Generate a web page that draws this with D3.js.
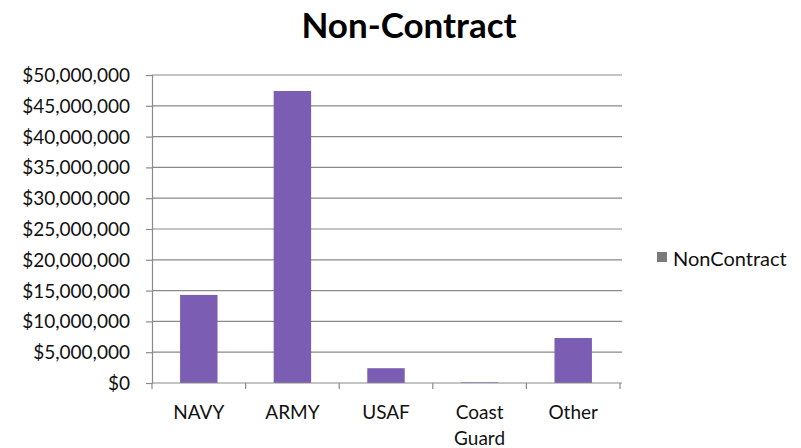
<!DOCTYPE html>
<html><head><meta charset="utf-8">
<script src="https://cdn.jsdelivr.net/npm/d3@7"></script>
<style>body{margin:0;background:#fff;} svg{display:block;}</style>
</head><body>
<svg id="c" width="801" height="448"></svg>
<script>
const categories = ["NAVY", "ARMY", "USAF", "Coast Guard", "Other"];
const values = [14300000, 47400000, 2400000, 100000, 7300000];
const yTicks = [0, 5000000, 10000000, 15000000, 20000000, 25000000, 30000000, 35000000, 40000000, 45000000, 50000000];
const seriesName = "NonContract";
const title = "Non-Contract";

const svg = d3.select("#c");
const font = "Lato, 'Open Sans', sans-serif";
const m = {left: 152, right: 620, top: 75, bottom: 383};

const xb = d3.scaleBand().domain(categories).range([m.left, m.right]);
const y = d3.scaleLinear().domain([0, 50000000]).range([m.bottom, m.top]);

// gridlines
svg.append("g").selectAll("line").data(yTicks.slice(1)).join("line")
  .attr("x1", m.left).attr("x2", m.right + 2)
  .attr("y1", d => y(d)).attr("y2", d => y(d))
  .attr("stroke", "#8a8a8a").attr("stroke-width", 1.2);

// bars
svg.append("g").selectAll("rect").data(categories).join("rect")
  .attr("x", (d) => xb(d) + xb.bandwidth() * 0.3)
  .attr("width", xb.bandwidth() * 0.4)
  .attr("y", (d, i) => y(values[i]))
  .attr("height", (d, i) => y(0) - y(values[i]))
  .attr("fill", "#7b5db4");

// y axis
const fmt = d => "$" + d3.format(",")(d);
const ya = svg.append("g").attr("transform", `translate(${m.left},0)`)
  .call(d3.axisLeft(y).tickValues(yTicks).tickFormat(fmt).tickSize(6).tickPadding(16));
ya.select(".domain").attr("stroke", "#8a8a8a").attr("stroke-width", 1.2);
ya.selectAll(".tick line").attr("stroke", "#8a8a8a").attr("stroke-width", 1.2);
ya.selectAll("text").attr("font-family", font).attr("font-size", 19).attr("fill", "#111").attr("dy", "0.34em");

// x axis
const xa = svg.append("g").attr("transform", `translate(0,${m.bottom})`)
  .call(d3.axisBottom(xb).tickValues([]).tickSize(0));
xa.select(".domain").attr("stroke", "#8a8a8a").attr("stroke-width", 1.2).attr("d", `M${m.left},0H${m.right + 2}`);
xa.selectAll(".xt").data(d3.range(categories.length + 1)).join("line")
  .attr("x1", i => m.left + i * xb.step()).attr("x2", i => m.left + i * xb.step())
  .attr("y1", 0).attr("y2", 6).attr("stroke", "#8a8a8a").attr("stroke-width", 1.2);

const labels = svg.append("g").selectAll("text").data(categories).join("text")
  .attr("x", d => xb(d) + xb.bandwidth() / 2)
  .attr("y", 419)
  .attr("text-anchor", "middle")
  .attr("font-family", font).attr("font-size", 19).attr("fill", "#111");
labels.each(function(d) {
  const words = d.split(" ");
  const t = d3.select(this);
  words.forEach((w, i) => {
    t.append("tspan").attr("x", xb(d) + xb.bandwidth() / 2).attr("dy", i === 0 ? 0 : 26).text(w);
  });
});

// title
svg.append("text").attr("x", 409).attr("y", 38).attr("text-anchor", "middle")
  .attr("font-family", font).attr("font-weight", "bold").attr("font-size", 35).attr("fill", "#000")
  .text(title);

// legend
svg.append("rect").attr("x", 657).attr("y", 252).attr("width", 10).attr("height", 10).attr("fill", "#7a7a7a");
svg.append("text").attr("x", 673).attr("y", 266).attr("font-family", font).attr("font-size", 20).attr("fill", "#111").text(seriesName);
</script>
</body></html>
